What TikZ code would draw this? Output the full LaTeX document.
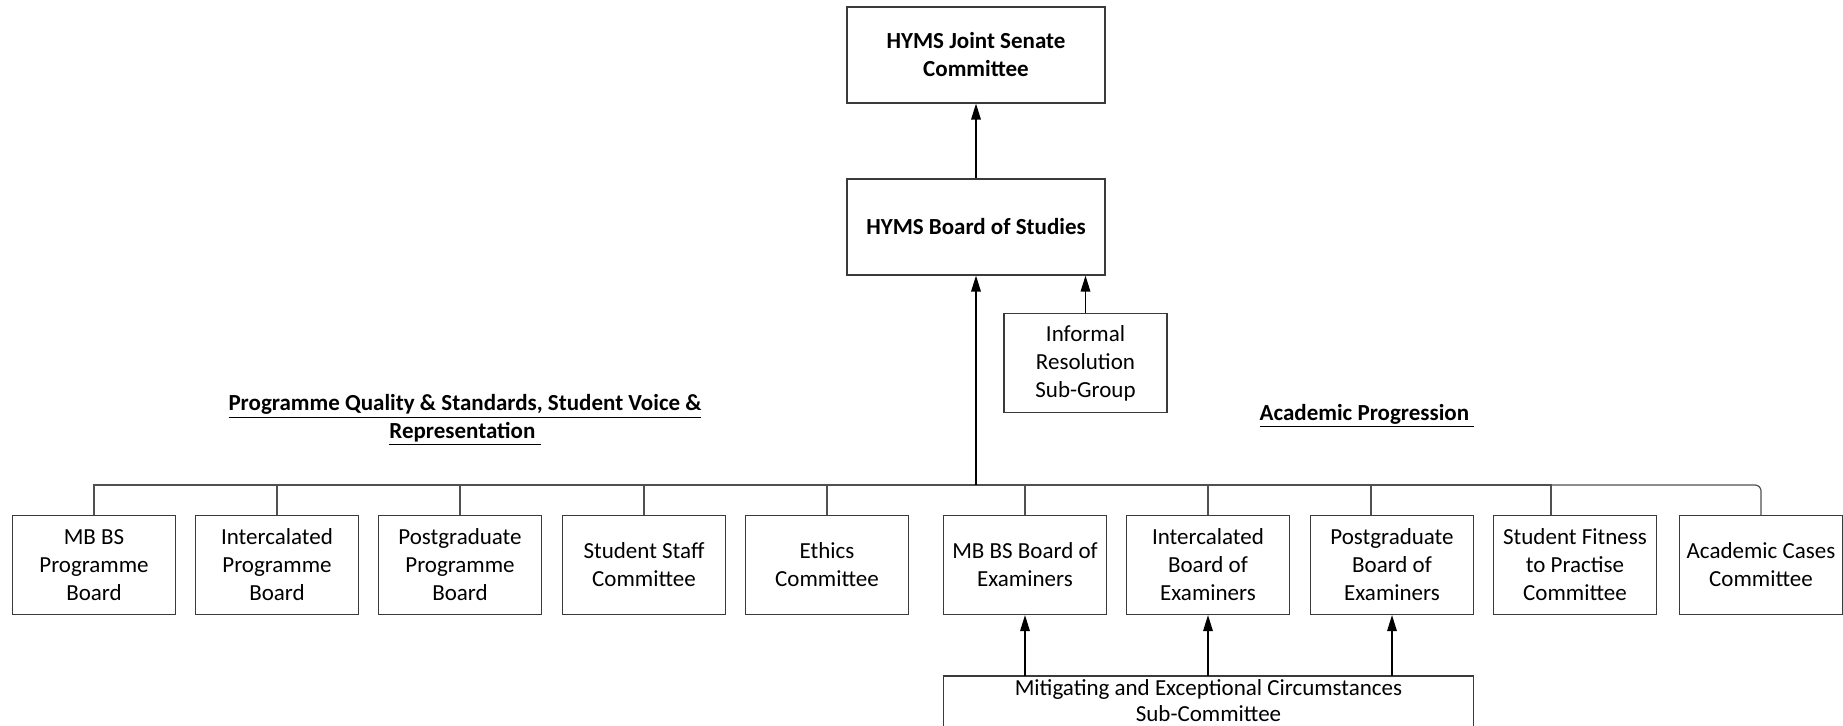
\documentclass[tikz,border=0pt]{standalone}
\usepackage{fontspec}
\setmainfont{Carlito}
\usetikzlibrary{arrows.meta,positioning}
\definecolor{orgLine}{HTML}{3a3a3a}
\definecolor{orgBus}{HTML}{505050}
\tikzset{
  >={Triangle[length=8pt,width=4.8pt]},
  topbox/.style={draw=orgLine, line width=0.6pt, minimum width=129pt, minimum height=48pt,
              align=center, inner sep=2pt, font=\fontsize{11.5pt}{14pt}\selectfont\bfseries},
  unit/.style={draw=orgLine, line width=0.6pt, minimum width=81.5pt, minimum height=49.5pt,
              align=center, inner sep=2pt, font=\fontsize{11.5pt}{14pt}\selectfont},
  head/.style={align=center, font=\fontsize{11.5pt}{14pt}\selectfont\bfseries},
  up/.style={->, draw=black, line width=0.7pt},
  bus/.style={draw=orgBus, line width=0.6pt},
}
\begin{document}
\begin{tikzpicture}[x=0.5pt,y=-0.5pt]
  \useasboundingbox (0,0) rectangle (1843,726);
  % top of the tree
  \node[topbox] (senate) at (976,55){HYMS Joint Senate\\Committee};
  \node[topbox] (studies) at (976,227){HYMS Board of Studies};
  \node[unit] (informal) at (1085.5,363){Informal\\Resolution\\Sub-Group};
  \draw[up] (studies) -- (senate);
  \draw[up] (informal.north) -- (informal.north |- studies.south);
  % group headings
  \node[head] (pqhead) at (465,420){\underline{Programme Quality \& Standards, Student Voice \&}\\\underline{Representation\ }};
  \node[head] (aphead) at (1367,416){\underline{Academic Progression\ }};
  % committees on the bus
  \coordinate (bus) at (976,485);
  \foreach \n/\x/\txt in {pq1/94/{MB BS\\Programme\\Board},pq2/277/{Intercalated\\Programme\\Board},
      pq3/460/{Postgraduate\\Programme\\Board},pq4/644/{Student Staff\\Committee},pq5/827/{Ethics\\Committee},
      ap1/1025/{MB BS Board of\\Examiners},ap2/1208/{Intercalated\\Board of\\Examiners},
      ap3/1392/{Postgraduate\\Board of\\Examiners},ap4/1575/{Student Fitness\\to Practise\\Committee},
      ap5/1761/{Academic Cases\\Committee}}{
    \node[unit] (\n) at (\x,565){\txt};
  }
  \foreach \n in {pq1,pq2,pq3,pq4,pq5,ap1,ap2}{
    \draw[bus] (\n.north) |- (bus);
  }
  \draw[bus] ([xshift=-10.5pt]ap3.north) |- (bus);
  \draw[bus] ([xshift=-12pt]ap4.north) |- (bus);
  \draw[bus,rounded corners=3pt] (ap5.north) |- (bus);
  \draw[up] (bus) -- (studies.south);
  % mitigating sub-committee (runs off the bottom edge)
  \node[unit,draw=none,minimum width=264.5pt,minimum height=0pt,inner sep=1.5pt,anchor=north,
        font=\fontsize{11.5pt}{12.8pt}\selectfont] (mitig) at (1208.5,676){Mitigating and Exceptional Circumstances\\Sub-Committee};
  \draw[orgLine,line width=0.6pt] (mitig.south west) |- (mitig.north east) -- ([yshift=-12pt]mitig.south east);
  \draw[orgLine,line width=0.6pt] (mitig.south west) -- ([yshift=-12pt]mitig.south west);
  \foreach \n in {ap1,ap2,ap3}{
    \draw[up] (\n.south |- mitig.north) -- (\n.south);
  }
\end{tikzpicture}
\end{document}
